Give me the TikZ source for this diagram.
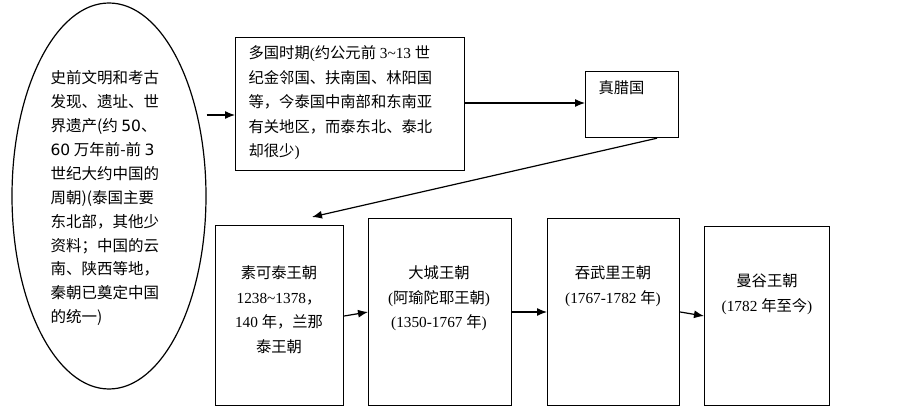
\documentclass[tikz,border=0pt]{standalone}
\usepackage{fontspec}
\setmainfont{Liberation Serif}
\newfontfamily\cjk{Noto Sans CJK SC}
\newfontfamily\dvs{DejaVu Sans}
\usetikzlibrary{shapes.geometric,arrows.meta}
\newcommand\C[1]{{\cjk #1}}
\begin{document}
\begin{tikzpicture}[x=1pt,y=-1pt,line width=1.2pt,
  box/.style={draw,rectangle,inner sep=0pt,anchor=north west},
  arr/.style={-{Latex[length=10pt,width=8pt]}},
  txt/.style={inner sep=0pt,align=left,font=\fontsize{15.3}{24.6}\selectfont},
  ctxt/.style={inner sep=0pt,align=center,anchor=north,font=\fontsize{15.3}{24.6}\selectfont}]
\useasboundingbox (0,0) rectangle (903,409);
\node[ellipse,draw,minimum width=194pt,minimum height=386pt,inner sep=0pt] (ell) at (109,196) {};
\node[box,minimum width=229pt,minimum height=133pt] (b1) at (235,37) {};
\node[box,minimum width=93pt,minimum height=66pt] (zl) at (585,71) {};
\node[box,minimum width=128pt,minimum height=180pt] (skt) at (215,225) {};
\node[box,minimum width=143pt,minimum height=187pt] (dc) at (368,218) {};
\node[box,minimum width=132pt,minimum height=187pt] (tw) at (547,218) {};
\node[box,minimum width=125pt,minimum height=179pt] (mg) at (704,226) {};
% texts
\node[txt,anchor=north west,font=\cjk\fontsize{15.5}{23.9}\selectfont] (et) at (50,70)
 {史前文明和考古\\发现、遗址、世\\界遗产(约 {\dvs 50}、\\{\dvs 60} 万年前-前 {\dvs 3}\\世纪大约中国的\\周朝)(泰国主要\\东北部，其他少\\资料；中国的云\\南、陕西等地，\\秦朝已奠定中国\\的统一)};
\node[txt,anchor=north west] (t1) at (248,45)
 {\C{多国时期}(\C{约公元前} 3\textasciitilde13 \C{世}\\\C{纪金邻国、扶南国、林阳国}\\\C{等，今泰国中南部和东南亚}\\\C{有关地区，而泰东北、泰北}\\\C{却很少})};
\node[txt,anchor=north west] (t2) at (598,80) {\C{真腊国}};
\node[ctxt] (t3) at (279,265) {\C{素可泰王朝}\\1238\textasciitilde1378\C{，}\\140 \C{年，兰那}\\\C{泰王朝}};
\node[ctxt] (t4) at (439,265) {\C{大城王朝}\\(\C{阿瑜陀耶王朝})\\(1350-1767 \C{年})};
\node[ctxt] (t5) at (613,265) {\C{吞武里王朝}\\(1767-1782 \C{年})};
\node[ctxt] (t6) at (767,273) {\C{曼谷王朝}\\(1782 \C{年至今})};
% connectors
\coordinate (tipskt) at (312,217);
\draw[arr] (ell.east |- 0,115) -- (b1.west |- 0,115);
\draw[arr] (b1.east |- 0,103) -- (zl.west |- 0,103);
\draw[arr] (zl.south -| 657,0) -- (tipskt);
\draw[arr] (skt.east |- 0,316) -- (dc.west |- 0,312);
\draw[arr] (dc.east |- 0,312) -- (tw.west |- 0,312);
\draw[arr] (tw.east |- 0,312) -- (mg.west |- 0,316);
\end{tikzpicture}
\end{document}
